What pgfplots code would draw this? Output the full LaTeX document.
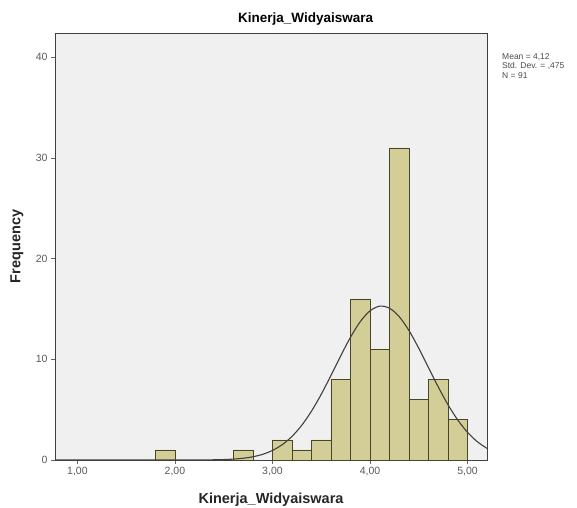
\documentclass[border=0pt]{standalone}
\usepackage{pgfplots}
\pgfplotsset{compat=1.18}
\usepackage{fontspec}
\setmainfont{Liberation Sans}
\definecolor{barfill}{RGB}{211,206,151}
\definecolor{baredge}{RGB}{70,70,40}
\definecolor{plotbg}{RGB}{240,240,240}
\begin{document}
\begin{tikzpicture}[x=1pt,y=1pt]
\path[use as bounding box] (-55,-47) rectangle (522,460);
\begin{axis}[
  name=ax,
  at={(0,0)}, anchor=south west,
  scale only axis, width=432pt, height=427pt,
  xmin=0.77, xmax=5.2, ymin=0, ymax=42.4,
  axis background/.style={fill=plotbg},
  axis line style={black!75, line width=0.9pt},
  xtick={1,2,3,4,5},
  xticklabels={{1,00},{2,00},{3,00},{4,00},{5,00}},
  ytick={0,10,20,30,40},
  tick align=outside,
  tick style={black!60, line width=0.6pt},
  major tick length=4pt,
  xtick pos=bottom, ytick pos=left,
  ticklabel style={font=\fontsize{10.5}{12}\selectfont, text=black!65},
  /pgf/number format/assume math mode=true,
  title={\bfseries Kinerja\_Widyaiswara},
  title style={font=\fontsize{13.5}{15}\selectfont, at={(axis description cs:0.58,1.008)}, anchor=south, yshift=-5pt},
  xlabel={\bfseries Kinerja\_Widyaiswara},
  ylabel={\bfseries Frequency},
  label style={font=\fontsize{14.5}{16}\selectfont, text=black!85},
  xlabel style={at={(axis description cs:0.5,-0.093)}, anchor=center},
  ylabel style={at={(axis description cs:-0.088,0.5)}, anchor=center},
  clip=true,
]
\addplot[ybar, bar width=0.2, bar shift=0pt, fill=barfill, draw=baredge, line width=0.6pt]
coordinates {(1.9,1) (2.7,1) (3.1,2) (3.3,1) (3.5,2) (3.7,8) (3.9,16) (4.1,11) (4.3,31) (4.5,6) (4.7,8) (4.9,4)};
\addplot[smooth, black!75, line width=1.1pt, mark=none]
coordinates {(0.77,0) (2.0,0.0007) (2.2,0.004) (2.4,0.022) (2.5,0.046) (2.6,0.091) (2.7,0.175) (2.8,0.322) (2.9,0.565) (3.0,0.949) (3.1,1.524) (3.2,2.343) (3.3,3.445) (3.4,4.847) (3.5,6.523) (3.6,8.398) (3.7,10.343) (3.8,12.186) (3.9,13.735) (4.0,14.810) (4.1,15.276) (4.2,15.075) (4.3,14.231) (4.4,12.852) (4.5,11.103) (4.6,9.176) (4.7,7.255) (4.8,5.488) (4.9,3.971) (5.0,2.749) (5.1,1.820) (5.2,1.153)};
\end{axis}
\node[anchor=north west, align=left, font=\fontsize{8.5}{9.5}\selectfont, text=black!70, inner sep=0pt]
  at ([xshift=15pt, yshift=-20pt]ax.north east) {Mean = 4,12\\Std. Dev. = ,475\\N = 91};
\end{tikzpicture}
\end{document}
